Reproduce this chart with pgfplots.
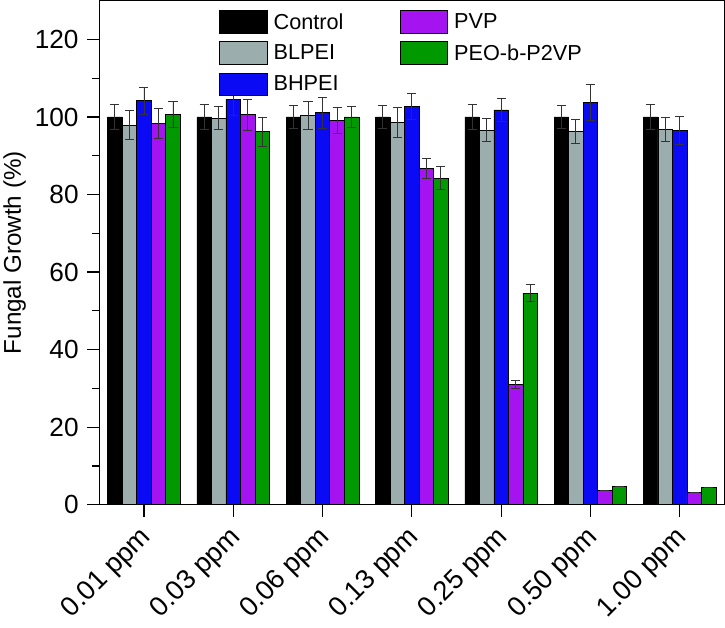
\documentclass[border=0pt]{standalone}
\usepackage{pgfplots}
\pgfplotsset{compat=1.18}
\usepackage{pgfplotstable}
\usepackage{fontspec}
\setmainfont{Liberation Sans}
\definecolor{cgrey}{HTML}{9CADAD}
\definecolor{cblue}{HTML}{0A0AF5}
\definecolor{cpurp}{HTML}{A514F0}
\definecolor{cgreen}{HTML}{009A00}
\pgfplotstableread{
x  c     ce   l     le   h     he   p     pe   g     ge
0  100.0 3.3  97.9  3.7  104.2 3.5  98.4  3.8  100.6 3.4
1  100.0 3.3  99.7  3.0  104.5 4.0  100.6 4.0  96.2  3.8
2  100.0 3.0  100.4 3.5  101.1 4.0  99.1  3.4  100.0 2.8
3  100.0 3.0  98.6  3.8  102.7 3.4  86.7  2.6  84.2  3.0
4  100.0 3.3  96.6  3.0  101.8 3.0  31.1  1.0  54.6  2.2
5  100.0 3.0  96.2  3.1  103.8 4.7  3.8   0.0  4.7   0.0
6  100.0 3.3  96.9  3.1  96.6  3.6  3.2   0.0  4.5   0.0
}\datatable
\begin{document}
\begin{tikzpicture}
\begin{axis}[
  scale only axis,
  width=620pt, height=500pt,
  ybar, bar width=14.4pt,
  xmin=-0.5, xmax=6.5,
  ymin=0, ymax=130,
  xtick={0,1,2,3,4,5,6},
  xticklabels={0.01 ppm,0.03 ppm,0.06 ppm,0.13 ppm,0.25 ppm,0.50 ppm,1.00 ppm},
  ytick={0,20,40,60,80,100,120},
  minor y tick num=1,
  xtick pos=left, ytick pos=left,
  tick align=outside,
  major tick length=12pt, minor tick length=7pt,
  every tick/.style={black, line width=1.2pt},
  axis line style={line width=1.3pt},
  /pgf/number format/assume math mode=true,
  yticklabel style={font=\fontsize{26}{30}\selectfont, xshift=-5pt},
  xticklabel style={font=\fontsize{27}{31}\selectfont, rotate=45, anchor=east, xshift=-6pt, yshift=-14pt},
  ylabel={Fungal Growth (\%)},
  ylabel style={font=\fontsize{24}{28}\selectfont, yshift=2pt},
  error bars/y dir=both, error bars/y explicit,
  error bars/error bar style={black!80, line width=0.8pt},
  error bars/error mark options={rotate=90, mark size=4.5pt, line width=0.8pt, black!80},
  legend columns=2,
  legend cell align=left,
  legend style={draw=none, fill=none, at={(0.187,0.985)}, anchor=north west,
    font=\fontsize{21.5}{25}\selectfont,
    nodes={inner xsep=6pt},
    /tikz/every even column/.append style={column sep=50pt},
    row sep=8pt},
  legend image code/.code={\draw[#1, line width=0.8pt] (0pt,-11pt) rectangle (47pt,11pt);},
]
\addlegendimage{fill=black, draw=black}
\addlegendentry{Control}
\addlegendimage{fill=cpurp, draw=black}
\addlegendentry{PVP}
\addlegendimage{fill=cgrey, draw=black}
\addlegendentry{BLPEI}
\addlegendimage{fill=cgreen, draw=black}
\addlegendentry{PEO-b-P2VP}
\addlegendimage{fill=cblue, draw=black}
\addlegendentry{BHPEI}
\addplot[fill=black, draw=black, line width=0.6pt, bar shift=-28.8pt, forget plot] table[x=x, y=c, y error=ce] {\datatable};
\addplot[fill=cgrey, draw=black, line width=0.6pt, bar shift=-14.4pt, forget plot] table[x=x, y=l, y error=le] {\datatable};
\addplot[fill=cblue, draw=black, line width=0.6pt, bar shift=0pt, forget plot] table[x=x, y=h, y error=he] {\datatable};
\addplot[fill=cpurp, draw=black, line width=0.6pt, bar shift=14.4pt, forget plot] table[x=x, y=p, y error=pe] {\datatable};
\addplot[fill=cgreen, draw=black, line width=0.6pt, bar shift=28.8pt, forget plot] table[x=x, y=g, y error=ge] {\datatable};
\end{axis}
\end{tikzpicture}
\end{document}
